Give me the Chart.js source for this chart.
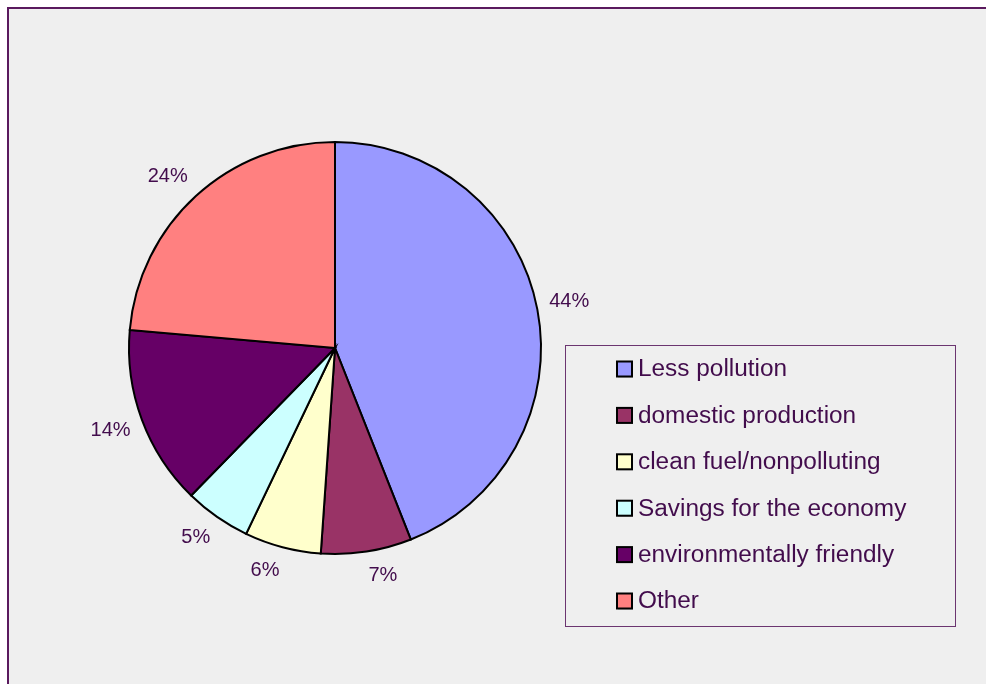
<!DOCTYPE html>
<html>
<head>
<meta charset="utf-8">
<script src="https://cdn.jsdelivr.net/npm/chart.js@4.4.1/dist/chart.umd.min.js"></script>
<style>
  html, body { margin: 0; padding: 0; background: #ffffff; }
  #wrap { position: relative; width: 986px; height: 684px; }
  canvas { display: block; }
</style>
</head>
<body>
<div id="wrap"><canvas id="c" width="986" height="684"></canvas></div>
<script>
// Reasons given, share of responses (%)
const categories = [
  'Less pollution',
  'domestic production',
  'clean fuel/nonpolluting',
  'Savings for the economy',
  'environmentally friendly',
  'Other'
];
const shares = [44.0, 7.1, 6.0, 5.2, 14.1, 23.6];
const sliceColors = ['#9999ff', '#993366', '#ffffcc', '#ccffff', '#660066', '#ff8080'];

const TEXT_COLOR = '#420c4c';
const FRAME_COLOR = '#5a1a5e';
const FONT = '"Liberation Sans", Arial, sans-serif';

// Page frame: light grey panel with purple top/left rule
const framePlugin = {
  id: 'frame',
  beforeDraw(chart) {
    const ctx = chart.ctx;
    ctx.save();
    ctx.fillStyle = '#ffffff';
    ctx.fillRect(0, 0, chart.width, chart.height);
    ctx.fillStyle = '#efefef';
    ctx.fillRect(8, 9, chart.width - 8, chart.height - 9);
    ctx.fillStyle = FRAME_COLOR;
    ctx.fillRect(7, 7, chart.width - 7, 2);
    ctx.fillRect(7, 7, 2, chart.height - 7);
    ctx.restore();
  }
};

// Percentage labels placed just outside each slice
const sliceLabelPlugin = {
  id: 'sliceLabels',
  afterDatasetsDraw(chart) {
    const ctx = chart.ctx;
    const meta = chart.getDatasetMeta(0);
    const data = chart.data.datasets[0].data;
    const total = data.reduce((a, b) => a + b, 0);
    const gap = 12;
    ctx.save();
    ctx.fillStyle = TEXT_COLOR;
    ctx.font = '20px ' + FONT;
    ctx.textAlign = 'center';
    ctx.textBaseline = 'middle';
    meta.data.forEach((arc, i) => {
      const p = arc.getProps(['x', 'y', 'startAngle', 'endAngle', 'outerRadius'], true);
      const mid = (p.startAngle + p.endAngle) / 2;
      const dx = Math.cos(mid), dy = Math.sin(mid);
      const pct = Math.round(data[i] / total * 100) + '%';
      const w = ctx.measureText(pct).width;
      const x = p.x + dx * (p.outerRadius + gap) + Math.sign(dx) * w / 2;
      const y = p.y + dy * (p.outerRadius + gap) + Math.sign(dy) * Math.sqrt(Math.abs(dy)) * 12;
      ctx.fillText(pct, x, y);
    });
    ctx.restore();
  }
};

// Boxed legend at the right of the pie
const legendBoxPlugin = {
  id: 'legendBox',
  afterDraw(chart) {
    const ctx = chart.ctx;
    const box = { x: 565.5, y: 345.5, w: 390, h: 281 };
    ctx.save();
    ctx.strokeStyle = '#6b3570';
    ctx.lineWidth = 1;
    ctx.strokeRect(box.x, box.y, box.w, box.h);
    const rowH = 46.4;
    const firstY = 369;
    chart.data.labels.forEach((lab, i) => {
      const cy = firstY + i * rowH;
      const sx = 617, size = 15;
      ctx.fillStyle = 'rgba(0,0,0,0.25)';
      ctx.fillRect(sx + 1, cy - size / 2 + 1, size, size);
      ctx.fillStyle = sliceColors[i];
      ctx.fillRect(sx, cy - size / 2, size, size);
      ctx.strokeStyle = '#000000';
      ctx.lineWidth = 2;
      ctx.strokeRect(sx, cy - size / 2, size, size);
      // legend text, slightly wide-set
      ctx.save();
      ctx.translate(638, cy + 1);
      ctx.scale(1.06, 1);
      ctx.font = '23px ' + FONT;
      ctx.textBaseline = 'middle';
      ctx.textAlign = 'left';
      ctx.fillStyle = TEXT_COLOR;
      ctx.fillText(lab, 0, 0);
      ctx.restore();
    });
    ctx.restore();
  }
};

new Chart(document.getElementById('c'), {
  type: 'pie',
  data: {
    labels: categories,
    datasets: [{
      data: shares,
      backgroundColor: sliceColors,
      borderColor: '#000000',
      borderWidth: 2,
      borderJoinStyle: 'miter'
    }]
  },
  options: {
    responsive: false,
    animation: false,
    events: [],
    layout: { padding: { left: 128, right: 444, top: 141, bottom: 129 } },
    plugins: {
      legend: { display: false },
      tooltip: { enabled: false }
    }
  },
  plugins: [framePlugin, sliceLabelPlugin, legendBoxPlugin]
});
</script>
</body>
</html>
